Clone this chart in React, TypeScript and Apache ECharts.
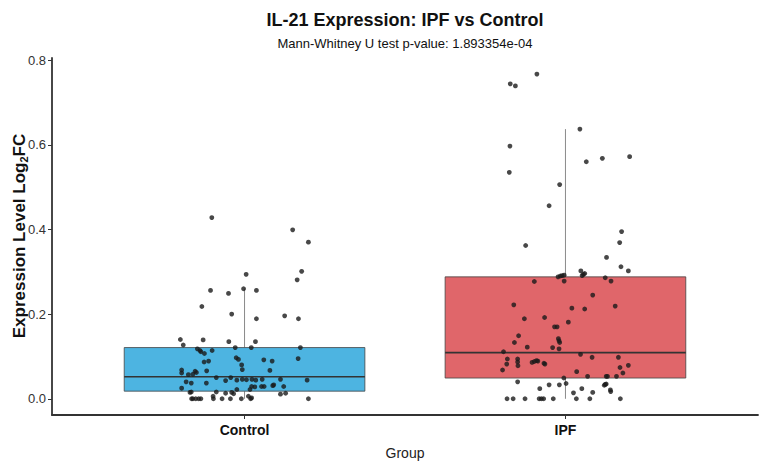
import React, { useEffect, useRef } from "react";
import * as echarts from "echarts";

// Groups on the x axis (positions 1 and 2)
const categories = ["Control", "IPF"];
const yTicks = [0, 0.2, 0.4, 0.6, 0.8];

// Box statistics: [lower whisker, Q1, median, Q3, upper whisker]
const controlBox = [0, 0.018, 0.052, 0.121, 0.26];
const ipfBox = [0, 0.049, 0.109, 0.288, 0.637];

// Individual samples: [horizontal jitter, log2FC]
const controlPoints: [number, number][] = [
  [-0.102, 0.428], [0.15, 0.399], [0.199, 0.37], [0.178, 0.301], [0.164, 0.281],
  [0.005, 0.294], [-0.003, 0.26], [-0.106, 0.256], [-0.05, 0.249], [0.037, 0.256],
  [-0.133, 0.218], [-0.04, 0.2], [0.037, 0.189], [0.125, 0.196], [0.168, 0.189],
  [-0.2, 0.14], [-0.191, 0.127], [-0.129, 0.139], [-0.049, 0.135], [0.034, 0.135],
  [0.174, 0.121], [0.167, 0.095], [0.021, 0.121],
  [-0.147, 0.118], [-0.139, 0.114], [-0.136, 0.111], [-0.125, 0.107], [-0.101, 0.114],
  [-0.112, 0.089], [-0.126, 0.087], [-0.029, 0.121], [-0.026, 0.097], [-0.019, 0.093],
  [-0.009, 0.08], [-0.007, 0.069], [0.06, 0.092], [0.086, 0.089], [0.079, 0.067],
  [-0.196, 0.068], [-0.196, 0.061], [-0.175, 0.057], [-0.161, 0.058], [-0.154, 0.065],
  [-0.15, 0.062], [-0.118, 0.066],
  [-0.088, 0.05], [-0.059, 0.043], [-0.043, 0.05], [-0.024, 0.044], [-0.007, 0.046],
  [0.006, 0.045], [0.023, 0.046], [0.035, 0.044], [0.055, 0.046], [0.112, 0.046],
  [0.195, 0.044],
  [-0.182, 0.04], [-0.166, 0.037], [-0.119, 0.037],
  [0.022, 0.029], [0.032, 0.028], [0.053, 0.029], [0.061, 0.029], [0.088, 0.031],
  [0.091, 0.033], [0.122, 0.029], [-0.196, 0.025], [-0.024, 0.022], [0.017, 0.022],
  [-0.17, 0.015], [-0.166, 0.016], [-0.088, 0.016], [-0.059, 0.013], [-0.04, 0.015],
  [-0.034, 0.012], [0.112, 0.011], [0.128, 0.013], [-0.098, 0.006], [0.012, 0.006],
  [-0.165, 0], [-0.161, 0], [-0.152, 0], [-0.143, 0], [-0.136, 0], [-0.097, 0],
  [-0.07, 0], [-0.044, 0], [-0.01, 0], [0.019, 0], [0.022, 0.002], [0.199, 0],
];

const ipfPoints: [number, number][] = [
  [-0.089, 0.767], [-0.172, 0.744], [-0.156, 0.739], [0.045, 0.637], [-0.173, 0.597],
  [0.065, 0.56], [0.115, 0.568], [0.2, 0.572], [-0.175, 0.535], [-0.018, 0.506],
  [-0.051, 0.456], [0.175, 0.395], [0.169, 0.369], [-0.124, 0.362], [0.128, 0.334],
  [0.173, 0.312], [0.196, 0.302], [0.048, 0.302],
  [-0.023, 0.288], [-0.016, 0.29], [-0.01, 0.291], [-0.004, 0.292],
  [0.052, 0.291], [0.056, 0.294], [0.06, 0.296], [0.124, 0.286], [0.142, 0.278],
  [-0.097, 0.277], [-0.004, 0.278], [0.085, 0.245], [-0.161, 0.222], [0.155, 0.219],
  [0.02, 0.214], [0.06, 0.212], [-0.128, 0.189], [-0.065, 0.192], [0.009, 0.181],
  [-0.034, 0.17], [-0.026, 0.17], [-0.146, 0.149], [-0.159, 0.133],
  [-0.022, 0.142], [-0.02, 0.137], [-0.018, 0.133], [-0.119, 0.122], [-0.04, 0.121],
  [-0.02, 0.118], [-0.193, 0.111], [0.047, 0.105], [0.083, 0.098], [0.165, 0.098],
  [-0.181, 0.094], [-0.183, 0.082], [-0.149, 0.094], [-0.149, 0.087], [-0.148, 0.078],
  [-0.104, 0.086], [-0.097, 0.088], [-0.09, 0.09], [-0.086, 0.089],
  [-0.067, 0.084], [-0.064, 0.082], [0.196, 0.079], [0.17, 0.074], [-0.196, 0.068],
  [0.035, 0.064], [0.179, 0.061], [-0.005, 0.049], [0.069, 0.053], [0.127, 0.053],
  [0.131, 0.053], [0.159, 0.053], [-0.149, 0.04], [-0.051, 0.033], [-0.019, 0.033],
  [0.002, 0.036], [-0.08, 0.024], [0.051, 0.024], [0.121, 0.032], [0.127, 0.035],
  [0.124, 0.034], [0.14, 0.021], [0.141, 0.017], [0.025, 0.014], [0.085, 0.015],
  [-0.182, 0], [-0.163, 0], [-0.126, 0], [-0.082, 0], [-0.075, 0], [-0.068, 0],
  [-0.038, 0], [0.034, 0], [0.076, 0], [0.171, 0],
];

const boxColors = ["#4DB4E1", "#E0666A"];
const FONT = "'Liberation Sans', Arial, sans-serif";

export default function App() {
  const ref = useRef<HTMLDivElement>(null);

  useEffect(() => {
    if (!ref.current) return;
    const chart = echarts.init(ref.current, null, { renderer: "svg" });

    const boxData = [controlBox, ipfBox].map((b, i) => [i + 1, ...b]);
    const toScatter = (pts: [number, number][], pos: number) =>
      pts.map(([dx, v]) => [pos + dx, v]);

    chart.setOption({
      animation: false,
      backgroundColor: "#ffffff",
      textStyle: { fontFamily: FONT },
      graphic: [
        {
          type: "text",
          x: 405,
          y: 20,
          style: {
            text: "IL-21 Expression: IPF vs Control",
            textAlign: "center",
            textVerticalAlign: "middle",
            fontSize: 18,
            fontWeight: "bold",
            fontFamily: FONT,
            fill: "#111",
          },
        },
        {
          type: "text",
          x: 405,
          y: 43,
          style: {
            text: "Mann-Whitney U test p-value: 1.893354e-04",
            textAlign: "center",
            textVerticalAlign: "middle",
            fontSize: 13,
            fontFamily: FONT,
            fill: "#111",
          },
        },
        {
          // y-axis title with a subscript 2
          type: "text",
          x: 19,
          y: 236,
          rotation: Math.PI / 2,
          style: {
            text: "{a|Expression Level Log}{s|2}{a|FC}",
            textAlign: "center",
            textVerticalAlign: "middle",
            rich: {
              a: { fontSize: 17, fontWeight: "bold", fill: "#111", fontFamily: FONT },
              s: { fontSize: 11, fontWeight: "bold", fill: "#111", fontFamily: FONT, padding: [9, 0, 0, 0] },
            },
          },
        },
      ],
      grid: {
        left: 52,
        right: 4,
        top: 58,
        bottom: 53,
        containLabel: false,
        outerBoundsMode: "none",
      },
      xAxis: {
        type: "value",
        min: 0.4,
        max: 2.6,
        name: "Group",
        nameLocation: "middle",
        nameGap: 31,
        nameTextStyle: { fontSize: 14, color: "#222", fontFamily: FONT },
        axisLine: { show: true, onZero: false, lineStyle: { color: "#333", width: 1.8 } },
        axisTick: { show: true, length: 4, customValues: [1, 2], lineStyle: { color: "#333" } },
        axisLabel: {
          customValues: [1, 2],
          formatter: (v: number) => categories[Math.round(v) - 1] ?? "",
          fontSize: 14,
          fontWeight: "bold",
          color: "#111",
          margin: 8,
          fontFamily: FONT,
        },
        splitLine: { show: false },
      },
      yAxis: {
        type: "value",
        min: -0.0383,
        max: 0.805,
        axisLine: { show: true, lineStyle: { color: "#333", width: 1.8 } },
        axisTick: { show: true, length: 4, customValues: yTicks, lineStyle: { color: "#333" } },
        axisLabel: {
          customValues: yTicks,
          formatter: (v: number) => v.toFixed(1),
          fontSize: 13,
          color: "#333",
          margin: 6,
          fontFamily: FONT,
        },
        splitLine: { show: false },
      },
      series: [
        {
          type: "custom",
          data: boxData,
          z: 2,
          renderItem: (params: any, api: any) => {
            const x = api.value(0);
            const lo = api.value(1);
            const q1 = api.value(2);
            const med = api.value(3);
            const q3 = api.value(4);
            const hi = api.value(5);
            const half = 0.375;
            const tl = api.coord([x - half, q3]);
            const br = api.coord([x + half, q1]);
            const pLo = api.coord([x, lo]);
            const pQ1 = api.coord([x, q1]);
            const pQ3 = api.coord([x, q3]);
            const pHi = api.coord([x, hi]);
            const mL = api.coord([x - half, med]);
            const mR = api.coord([x + half, med]);
            const whisker = { stroke: "#8a8a8a", lineWidth: 1 };
            return {
              type: "group",
              children: [
                { type: "line", shape: { x1: pHi[0], y1: pHi[1], x2: pQ3[0], y2: pQ3[1] }, style: whisker },
                { type: "line", shape: { x1: pQ1[0], y1: pQ1[1], x2: pLo[0], y2: pLo[1] }, style: whisker },
                {
                  type: "rect",
                  shape: { x: tl[0], y: tl[1], width: br[0] - tl[0], height: br[1] - tl[1] },
                  style: { fill: boxColors[params.dataIndex], stroke: "#444", lineWidth: 0.8 },
                },
                {
                  type: "line",
                  shape: { x1: mL[0], y1: mL[1], x2: mR[0], y2: mR[1] },
                  style: { stroke: "#333", lineWidth: 1.6 },
                },
              ],
            };
          },
        },
        {
          type: "scatter",
          z: 3,
          symbolSize: 4.8,
          itemStyle: { color: "#1a1a1a" },
          data: toScatter(controlPoints, 1),
        },
        {
          type: "scatter",
          z: 3,
          symbolSize: 4.8,
          itemStyle: { color: "#1a1a1a" },
          data: toScatter(ipfPoints, 2),
        },
      ],
    });

    return () => chart.dispose();
  }, []);

  return (
    <div
      ref={ref}
      style={{ position: "fixed", left: 0, top: 0, width: 762, height: 468 }}
    />
  );
}
